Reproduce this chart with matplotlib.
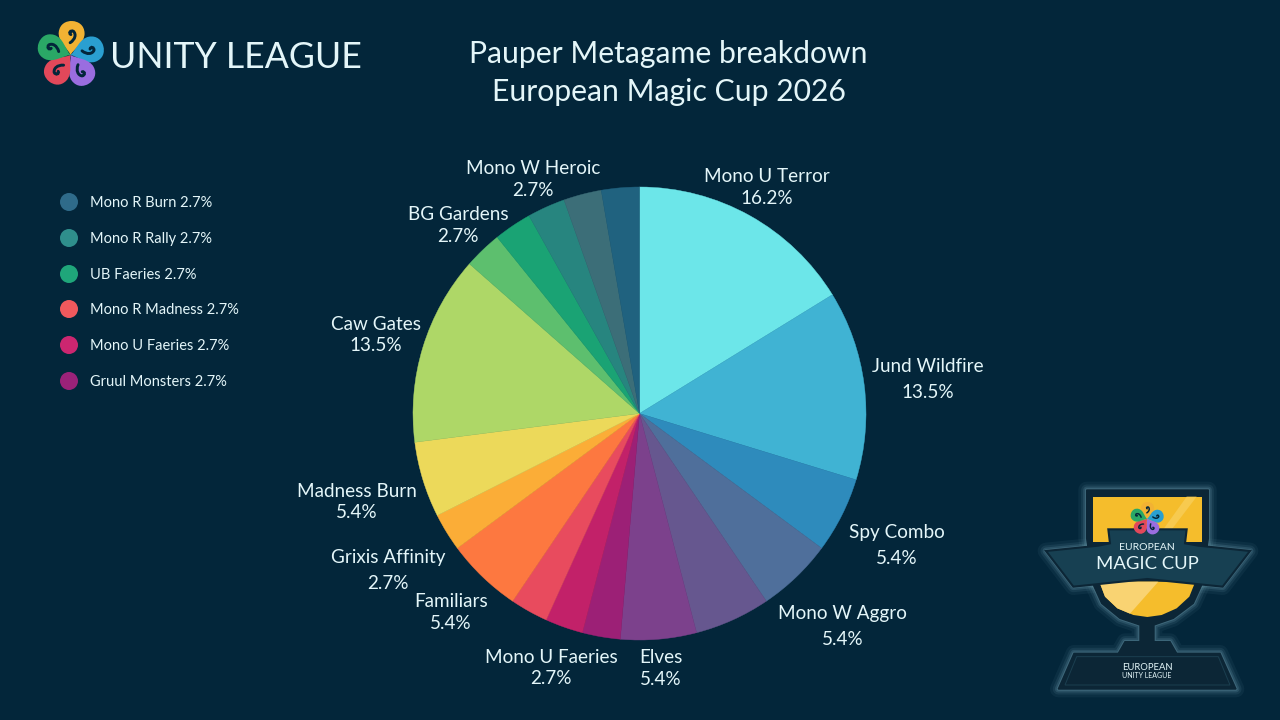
import matplotlib
matplotlib.use("Agg")
import matplotlib.pyplot as plt
import numpy as np
from matplotlib.path import Path
from matplotlib.patches import PathPatch, Polygon, Circle, Rectangle
from matplotlib.transforms import Affine2D

plt.rcParams['font.family'] = ['Lato', 'DejaVu Sans']

# ---- data (clockwise from 12 o'clock) ----
categories = ["Mono U Terror", "Jund Wildfire", "Spy Combo", "Mono W Aggro", "", "Elves",
              "Gruul Monsters", "Mono U Faeries", "Mono R Madness", "Familiars",
              "Grixis Affinity", "Madness Burn", "Caw Gates", "BG Gardens", "UB Faeries",
              "Mono R Rally", "Mono W Heroic", "Mono R Burn"]
shares = [16.2, 13.5, 5.4, 5.4, 5.4, 5.4, 2.7, 2.7, 2.7, 5.4, 2.7, 5.4, 13.5, 2.7, 2.7, 2.7, 2.7, 2.7]
slice_colors = ["#6ce6e9", "#40b3d3", "#2e8bbc", "#4f6f9b", "#66578f", "#7c418c",
                "#9c2076", "#c22169", "#e84b5e", "#fd7840", "#fbad37", "#ecd95a",
                "#aed767", "#5dbf6e", "#1aa374", "#27857f", "#3c6e78", "#20627f"]
legend_names = ["Mono R Burn", "Mono R Rally", "UB Faeries", "Mono R Madness", "Mono U Faeries", "Gruul Monsters"]
legend_values = [2.7, 2.7, 2.7, 2.7, 2.7, 2.7]
legend_colors = ["#2f6b8a", "#2f8f8c", "#1fa67a", "#f0595d", "#cc2670", "#9b2279"]

# ---- layout (pixels, y measured from the top) ----
label_pos = {"Mono U Terror": (767, 176.5, 198.5), "Jund Wildfire": (927.5, 366.5, 392.5),
             "Spy Combo": (897, 532.5, 558.5), "Mono W Aggro": (842.5, 613.5, 639.5),
             "Elves": (661, 657.5, 679.5), "Mono U Faeries": (551, 657.5, 678.5),
             "Familiars": (451, 601.5, 623.5), "Grixis Affinity": (388, 557.5, 583.5),
             "Madness Burn": (357, 491.5, 512.5), "Caw Gates": (376, 324.5, 345.5),
             "BG Gardens": (458, 214.5, 236.5), "Mono W Heroic": (533, 168.5, 190.5)}
legend_y = [202, 238, 274, 309, 345, 381]

BG = "#03263a"
TXT = "#e4f6f9"
H = 720

fig = plt.figure(figsize=(12.8, 7.2), dpi=100, facecolor=BG)
ax = fig.add_axes([0, 0, 1, 1])
ax.set_facecolor(BG)

wedges, _ = ax.pie(shares, colors=slice_colors, startangle=90, counterclock=False,
                   center=(639.5, H - 413.5), radius=226.5)
for w in wedges:
    w.set_edgecolor(w.get_facecolor())
    w.set_linewidth(0.3)
ax.set_xlim(0, 1280)
ax.set_ylim(0, H)
ax.set_aspect('equal')
ax.axis('off')


def put(x, y, s, size, **kw):
    kw.setdefault('color', TXT)
    kw.setdefault('ha', 'center')
    ax.text(x, H - y, s, fontsize=size, va='center', **kw)


# titles
put(668.5, 53.5, "Pauper Metagame breakdown", 21.7)
put(668.5, 92.5, "European Magic Cup 2026", 21.7)
put(236, 57.5, "UNITY LEAGUE", 25.7)

# slice labels
for name, val in zip(categories, shares):
    if name in label_pos:
        x, y1, y2 = label_pos[name]
        put(x, y1, name, 13.6)
        put(x, y2, f"{val:.1f}%", 13.6)

# legend
for name, val, col, y in zip(legend_names, legend_values, legend_colors, legend_y):
    ax.add_patch(Circle((69, H - y), 9, fc=col, ec='none'))
    put(90, y + 1, f"{name} {val:.1f}%", 10.5, ha='left')


# logo
def logo(cx, cy, s, zorder=5):
    colors = ["#f2b233", "#2a9fd0", "#9a6de0", "#e2485a", "#2aa866"]
    verts = [(0, 0), (-.1, .2), (-.4, .38), (-.38, .66), (-.36, .9), (-.18, 1), (0, 1),
             (.18, 1), (.36, .9), (.38, .66), (.4, .38), (.1, .2), (0, 0)]
    codes = [Path.MOVETO] + [Path.CURVE4] * 12
    curl_v = [(-.03, .36), (.12, .47), (.14, .62), (.05, .7), (-.04, .74), (-.1, .64), (-.02, .6)]
    curl_c = [Path.MOVETO] + [Path.CURVE4] * 6
    for i, col in enumerate(colors):
        tr = Affine2D().scale(s).rotate_deg(-(3 + 72 * i)).translate(cx, H - cy) + ax.transData
        ax.add_patch(PathPatch(Path(verts, codes), fc=col, ec='none', transform=tr, zorder=zorder))
        ax.add_patch(PathPatch(Path(curl_v, curl_c), fc='none', ec=BG, lw=max(s / 16, .6),
                               transform=tr, zorder=zorder + .1, capstyle='round'))


logo(70.5, 55, 34)


# trophy (coordinates in a 690 px box at 1/3 scale)
def tp(pts):
    return [(1030 + x / 3, H - (475 + y / 3)) for x, y in pts]


DARK = "#0c2636"
BAN = "#174052"
GOLD = "#f5bd2c"

cup = [(170, 45), (535, 45), (535, 190), (515, 330), (490, 385), (430, 430), (372, 450),
       (372, 500), (420, 500), (440, 535), (570, 535), (618, 642), (85, 642), (132, 535),
       (265, 535), (285, 500), (330, 500), (330, 450), (270, 430), (215, 385), (190, 330), (170, 190)]
banner = [(48, 228), (205, 212), (240, 205), (235, 163), (470, 163), (465, 205), (505, 212),
          (660, 228), (578, 335), (352, 312), (130, 335)]

for lw, a in [(12, .08), (8, .12), (5, .2), (2.5, .3)]:
    ax.add_patch(Polygon(tp(cup), closed=True, fc='none', ec="#6f9fb0", lw=lw, alpha=a, joinstyle='round', zorder=6))
    ax.add_patch(Polygon(tp(banner), closed=True, fc='none', ec="#6f9fb0", lw=lw, alpha=a, joinstyle='round', zorder=6))

ax.add_patch(Polygon(tp(cup), closed=True, fc=DARK, ec=DARK, lw=1, zorder=7))
ax.add_patch(Polygon(tp([(190, 65), (515, 65), (515, 200), (190, 200)]), closed=True, fc=GOLD, ec='none', zorder=8))
ax.add_patch(Polygon(tp([(470, 65), (500, 65), (420, 170), (395, 170)]), closed=True, fc="#f7ca4f", ec='none', zorder=8.1))
bowl = [(208, 320), (225, 365), (262, 400), (310, 420), (352, 426), (395, 420), (440, 400), (478, 365), (496, 320)]
ax.add_patch(Polygon(tp(bowl), closed=True, fc=GOLD, ec='none', zorder=8))
ax.add_patch(Polygon(tp([(208, 320), (385, 320), (300, 416), (262, 400), (225, 365)]), closed=True, fc="#f9d372", ec='none', zorder=8.1))
ax.add_patch(Polygon(tp(banner), closed=True, fc=BAN, ec=DARK, lw=1.5, zorder=9))
ax.add_patch(Polygon(tp([(140, 545), (565, 545), (600, 630), (105, 630)]), closed=True, fc='none', ec="#1b3f50", lw=.7, zorder=9))

logo(1147, 519, 17, zorder=10)
put(1147, 547, "EUROPEAN", 7.5, zorder=11)
put(1147, 564, "MAGIC CUP", 13.3, zorder=11)
put(1147, 667, "EUROPEAN", 6.8, zorder=11)
put(1147, 675, "UNITY LEAGUE", 5, zorder=11)

fig.savefig("out.png", dpi=100, facecolor=BG)
